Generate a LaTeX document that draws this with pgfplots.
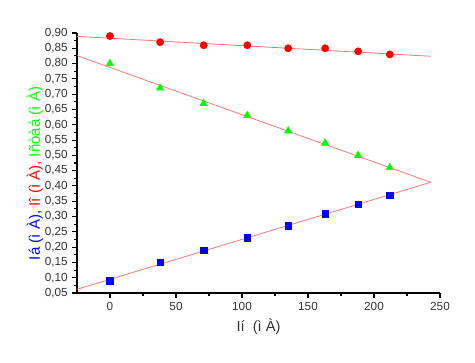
\documentclass[border=0pt]{standalone}
\usepackage{fontspec}
\setmainfont{Liberation Sans}
\usepackage{pgfplots}
\pgfplotsset{compat=1.18}
\definecolor{fitred}{RGB}{255,120,120}
\begin{document}
\begin{tikzpicture}
\path[use as bounding box] (0,0) rectangle (356.25pt,272.25pt);
\begin{axis}[
  at={(57.75pt,52.5pt)}, anchor=south west,
  scale only axis, width=272.25pt, height=195pt,
  xmin=-25, xmax=250, ymin=0.05, ymax=0.90,
  axis x line*=bottom, axis y line*=left,
  axis line style={line width=0.9pt, -},
  xtick={0,50,...,250}, minor xtick={25,75,...,225},
  ytick={0.05,0.10,...,0.91}, minor ytick={0.075,0.125,...,0.9},
  tick align=outside, major tick length=3.5pt, minor tick length=2pt,
  every tick/.style={black, line width=0.8pt},
  tick label style={font=\fontsize{8.8pt}{10pt}\selectfont, text=black!80},
  /pgf/number format/assume math mode=true,
  yticklabel style={/pgf/number format/.cd, fixed, fixed zerofill, precision=2, use comma},
  xticklabel style={/pgf/number format/.cd, fixed, precision=0},
  xlabel={Ií\ \ (ì À)},
  xlabel style={font=\fontsize{11pt}{12pt}\selectfont, text=black!80, at={(axis description cs:0.5,-0.13)}, anchor=center},
  ylabel={\textcolor{blue}{Iá (ì À),} \textcolor{red}{Iî (ì À),} \textcolor{green}{Iñòàá (ì À)}},
  ylabel style={font=\fontsize{11.3pt}{12pt}\selectfont, at={(axis description cs:-0.116,0.46)}, anchor=center},
  clip=false,
]
% fit lines
\addplot[fitred, line width=0.6pt] coordinates {(-25,0.889) (243,0.824)};
\addplot[fitred, line width=0.6pt] coordinates {(-25,0.826) (243,0.412)};
\addplot[fitred, line width=0.6pt] coordinates {(-25,0.062) (243,0.412)};
% data
\addplot[only marks, mark=*, mark size=2.7pt, color=red, mark options={fill=red}] coordinates {
(0,0.89) (38,0.87) (71,0.86) (104,0.86) (135,0.85) (163,0.85) (188,0.84) (212,0.83)};
\addplot[only marks, mark=triangle*, mark size=3.2pt, color=green, mark options={fill=green}] coordinates {
(0,0.80) (38,0.72) (71,0.67) (104,0.63) (135,0.58) (163,0.54) (188,0.50) (212,0.46)};
\addplot[only marks, mark=square*, mark size=2.5pt, color=blue, mark options={fill=blue}] coordinates {
(0,0.09) (38,0.15) (71,0.19) (104,0.23) (135,0.27) (163,0.31) (188,0.34) (212,0.37)};
\end{axis}
\end{tikzpicture}
\end{document}
